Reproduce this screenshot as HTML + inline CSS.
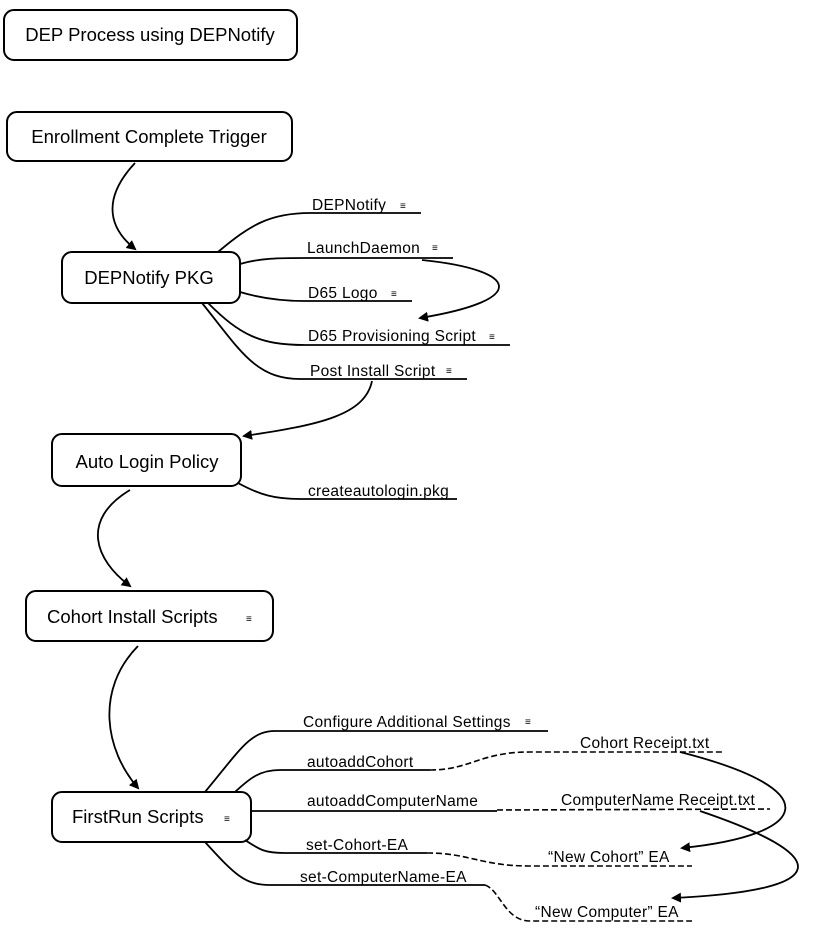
<!DOCTYPE html>
<html><head><style>
html,body{margin:0;padding:0;background:#fff;}
svg{display:block;}
text{font-family:"Liberation Sans",sans-serif;fill:#000;}
.n{font-size:18.5px;}
.b{font-size:15.5px;letter-spacing:0.3px;}
.i{font-size:10px;}
</style></head><body>
<svg width="825" height="928" viewBox="0 0 825 928" xmlns="http://www.w3.org/2000/svg">
<defs><marker id="a" markerWidth="10" markerHeight="10" refX="8" refY="5" orient="auto" markerUnits="userSpaceOnUse"><path d="M0,0 L10,5 L0,10 z" fill="#000"/></marker></defs>
<g fill="#fff" stroke="#000" stroke-width="2">
<rect x="4" y="10" width="293" height="50" rx="10"/>
<rect x="7" y="112" width="285" height="49" rx="10"/>
<rect x="62" y="252" width="178" height="51" rx="10"/>
<rect x="52" y="434" width="189" height="52" rx="10"/>
<rect x="26" y="591" width="247" height="50" rx="10"/>
<rect x="52" y="792" width="199" height="50" rx="10"/>
</g>
<text class="n" x="150" y="41" text-anchor="middle">DEP Process using DEPNotify</text>
<text class="n" x="149" y="143" text-anchor="middle">Enrollment Complete Trigger</text>
<text class="n" x="149" y="284" text-anchor="middle">DEPNotify PKG</text>
<text class="n" x="147" y="468" text-anchor="middle">Auto Login Policy</text>
<text class="n" x="47" y="623">Cohort Install Scripts</text><text class="i" x="246" y="622">≡</text>
<text class="n" x="72" y="823">FirstRun Scripts</text><text class="i" x="224" y="822">≡</text>

<g fill="none" stroke="#000" stroke-width="1.8">
<path d="M135,163 C105,195 105,225 135,249" marker-end="url(#a)"/>
<path d="M218,252 C250,225 270,213 310,213 L421,213"/>
<path d="M240,264 C260,258 280,258 305,258 L453,258"/>
<path d="M240,292 C260,298 280,301 305,301 L412,301"/>
<path d="M208,303 C240,335 260,345 305,345 L510,345"/>
<path d="M202,303 C240,350 255,379 300,379 L467,379"/>
<path d="M422,260 C520,270 530,300 420,318" marker-end="url(#a)"/>
<path d="M372,381 C365,415 320,425 244,436" marker-end="url(#a)"/>
<path d="M238,483 C260,495 275,499 300,499 L457,499"/>
<path d="M130,490 C80,520 95,560 130,586" marker-end="url(#a)"/>
<path d="M138,646 C95,690 105,750 138,788" marker-end="url(#a)"/>
<path d="M205,792 C240,750 250,731 275,731 L548,731"/>
<path d="M235,792 C250,778 260,770 280,770 L430,770"/>
<path d="M251,811 L497,811"/>
<path d="M245,840 C260,850 265,853 285,853 L427,853"/>
<path d="M205,842 C235,875 245,885 270,885 L485,885"/>
<path d="M680,752 C830,790 810,835 682,848" marker-end="url(#a)"/>
<path d="M700,811 C830,855 840,890 673,898" marker-end="url(#a)"/>
</g>
<g fill="none" stroke="#000" stroke-width="1.6" stroke-dasharray="6,3">
<path d="M430,770 C470,770 480,752 530,752 L722,752"/>
<path d="M497,810 L770,809"/>
<path d="M427,853 C470,853 480,866 530,866 L692,866"/>
<path d="M485,885 C500,890 505,921 530,921 L692,921"/>
</g>
<text class="b" x="312" y="210">DEPNotify</text><text class="i" x="400" y="209">≡</text>
<text class="b" x="307" y="253">LaunchDaemon</text><text class="i" x="432" y="251">≡</text>
<text class="b" x="308" y="298">D65 Logo</text><text class="i" x="391" y="297">≡</text>
<text class="b" x="308" y="341">D65 Provisioning Script</text><text class="i" x="489" y="340">≡</text>
<text class="b" x="310" y="376">Post Install Script</text><text class="i" x="446" y="374">≡</text>
<text class="b" x="308" y="496">createautologin.pkg</text>
<text class="b" x="303" y="727">Configure Additional Settings</text><text class="i" x="525" y="725">≡</text>
<text class="b" x="307" y="767">autoaddCohort</text>
<text class="b" x="580" y="748">Cohort Receipt.txt</text>
<text class="b" x="307" y="806">autoaddComputerName</text>
<text class="b" x="561" y="805">ComputerName Receipt.txt</text>
<text class="b" x="306" y="850">set-Cohort-EA</text>
<text class="b" x="548" y="862">“New Cohort” EA</text>
<text class="b" x="300" y="882">set-ComputerName-EA</text>
<text class="b" x="535" y="917">“New Computer” EA</text>
</svg>
</body></html>
